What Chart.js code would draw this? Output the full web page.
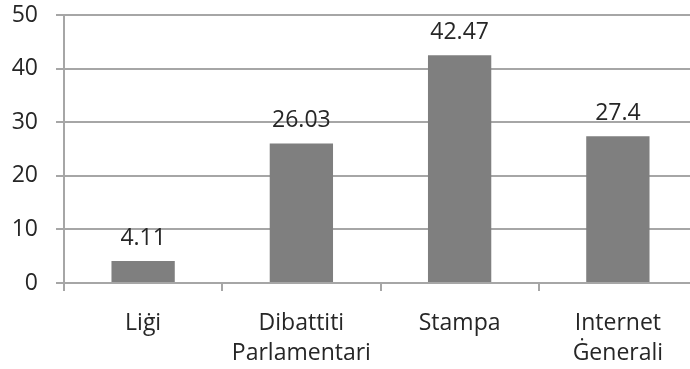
<!DOCTYPE html>
<html>
<head>
<meta charset="utf-8">
<script src="https://cdn.jsdelivr.net/npm/chart.js@4"></script>
<style>
  html, body { margin: 0; padding: 0; background: #fff; overflow: hidden; }
  #wrap { width: 698px; height: 369px; }
</style>
</head>
<body>
<div id="wrap"><canvas id="barChart" width="698" height="369"></canvas></div>
<script>
// Sorsi tal-informazzjoni (%)
const categories = [['Liġi'], ['Dibattiti', 'Parlamentari'], ['Stampa'], ['Internet', 'Ġenerali']];
const values = [4.11, 26.03, 42.47, 27.4];
const yTicks = [0, 10, 20, 30, 40, 50];

const gridColor = '#a6a6a6';
const textColor = '#262626';
const fontFamily = '"Open Sans", sans-serif';

// valur fuq kull kolonna
const valueLabels = {
    id: 'valueLabels',
    afterDatasetsDraw(chart) {
        const ctx = chart.ctx;
        const meta = chart.getDatasetMeta(0);
        ctx.save();
        ctx.font = '23px ' + fontFamily;
        ctx.fillStyle = textColor;
        ctx.textAlign = 'center';
        ctx.textBaseline = 'middle';
        meta.data.forEach((bar, i) => {
            ctx.fillText(String(values[i]), bar.x, bar.y - 23);
        });
        ctx.restore();
    }
};

new Chart(document.getElementById('barChart'), {
    type: 'bar',
    data: {
        labels: categories,
        datasets: [{
            data: values,
            backgroundColor: '#7f7f7f',
            barPercentage: 0.4,
            categoryPercentage: 1
        }]
    },
    options: {
        responsive: false,
        animation: false,
        layout: { padding: { top: 15, right: 1, left: 0, bottom: 0 } },
        plugins: { legend: { display: false }, tooltip: { enabled: false } },
        scales: {
            x: {
                offset: true,
                grid: {
                    offset: true,
                    drawOnChartArea: false,
                    drawTicks: true,
                    tickLength: 8,
                    color: gridColor,
                    lineWidth: 2
                },
                border: { color: gridColor, width: 2 },
                ticks: { color: textColor, font: { family: fontFamily, size: 23, lineHeight: 1.3 }, padding: 18, maxRotation: 0 },
                afterFit(scale) { scale.height = 86; }
            },
            y: {
                min: 0,
                max: 50,
                afterBuildTicks(scale) { scale.ticks = yTicks.map(v => ({ value: v })); },
                grid: { color: gridColor, lineWidth: 2, tickLength: 8 },
                border: { color: gridColor, width: 2 },
                ticks: { color: textColor, font: { family: fontFamily, size: 23 }, padding: 18 },
                afterFit(scale) {
                    scale.width = 64;
                    scale.paddingTop = 0;
                    scale.paddingBottom = 0;
                }
            }
        }
    },
    plugins: [valueLabels]
});
</script>
</body>
</html>
